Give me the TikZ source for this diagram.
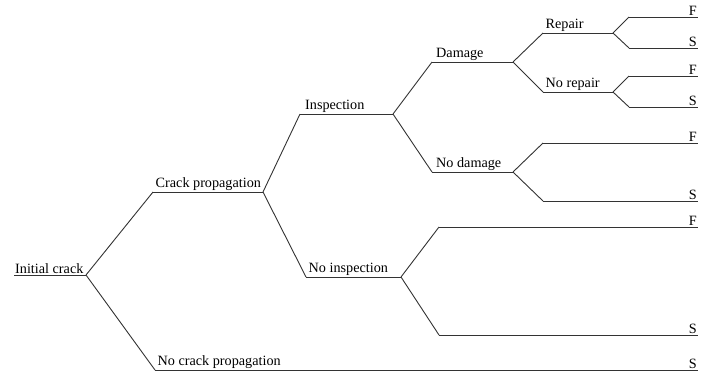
\documentclass[tikz,border=0pt]{standalone}
\usepackage{fontspec}
\setmainfont{Liberation Serif}
\begin{document}
\begin{tikzpicture}[x=1pt,y=-1pt,
  br/.style={line width=0.9pt, draw=black!80},
  lab/.style={anchor=south west, inner xsep=2.5pt, inner ysep=1.5pt, font=\fontsize{14.2}{16}\selectfont},
  fin/.style={anchor=south east, inner xsep=1pt, inner ysep=1.5pt, font=\fontsize{14.2}{16}\selectfont}]
\useasboundingbox (0,0) rectangle (716,373);
% branch start/end coordinates
\coordinate (ic0) at (14,275);   \coordinate (ic1) at (86,275);
\coordinate (cp0) at (153,192);  \coordinate (cp1) at (263,192);
\coordinate (ncp0) at (155,370); \coordinate (ncp1) at (698,370);
\coordinate (in0) at (300,114);  \coordinate (in1) at (393,114);
\coordinate (ni0) at (306,277);  \coordinate (ni1) at (401,277);
\coordinate (dm0) at (432,62);   \coordinate (dm1) at (513,62);
\coordinate (nd0) at (432,172);  \coordinate (nd1) at (513,172);
\coordinate (rp0) at (543,33);   \coordinate (rp1) at (613,33);
\coordinate (nr0) at (543,92);   \coordinate (nr1) at (613,92);
\coordinate (rpF0) at (629,17);  \coordinate (rpF1) at (698,17);
\coordinate (rpS0) at (629,48);  \coordinate (rpS1) at (698,48);
\coordinate (nrF0) at (629,76);  \coordinate (nrF1) at (698,76);
\coordinate (nrS0) at (629,107); \coordinate (nrS1) at (698,107);
\coordinate (ndF0) at (543,143); \coordinate (ndF1) at (698,143);
\coordinate (ndS0) at (543,201); \coordinate (ndS1) at (698,201);
\coordinate (niF0) at (439,227); \coordinate (niF1) at (698,227);
\coordinate (niS0) at (439,335); \coordinate (niS1) at (698,335);
% horizontal branches
\foreach \b in {ic,cp,ncp,in,ni,dm,nd,rp,nr,rpF,rpS,nrF,nrS,ndF,ndS,niF,niS}
  \draw[br] (\b0) -- (\b1);
% connectors
\draw[br] (ic1) -- (cp0);  \draw[br] (ic1) -- (ncp0);
\draw[br] (cp1) -- (in0);  \draw[br] (cp1) -- (ni0);
\draw[br] (in1) -- (dm0);  \draw[br] (in1) -- (nd0);
\draw[br] (dm1) -- (rp0);  \draw[br] (dm1) -- (nr0);
\draw[br] (rp1) -- (rpF0); \draw[br] (rp1) -- (rpS0);
\draw[br] (nr1) -- (nrF0); \draw[br] (nr1) -- (nrS0);
\draw[br] (nd1) -- (ndF0); \draw[br] (nd1) -- (ndS0);
\draw[br] (ni1) -- (niF0); \draw[br] (ni1) -- (niS0);
% labels
\node[lab, inner xsep=1pt] (tic) at (ic0) {Initial crack};
\node[lab] (tcp) at (cp0) {Crack propagation};
\node[lab] (tncp) at (ncp0) {No crack propagation};
\node[lab, inner xsep=5pt] (tin) at (in0) {Inspection};
\node[lab] (tni) at (ni0) {No inspection};
\node[lab, inner xsep=4pt] (tdm) at (dm0) {Damage};
\node[lab, inner xsep=4pt] (tnd) at (nd0) {No damage};
\node[lab] (trp) at (rp0) {Repair};
\node[lab] (tnr) at (nr0) {No repair};
\node[fin] (frpF) at (rpF1) {F};
\node[fin] (frpS) at (rpS1) {S};
\node[fin] (fnrF) at (nrF1) {F};
\node[fin] (fnrS) at (nrS1) {S};
\node[fin] (fndF) at (ndF1) {F};
\node[fin] (fndS) at (ndS1) {S};
\node[fin] (fniF) at (niF1) {F};
\node[fin] (fniS) at (niS1) {S};
\node[fin] (fncp) at (ncp1) {S};
\end{tikzpicture}
\end{document}
